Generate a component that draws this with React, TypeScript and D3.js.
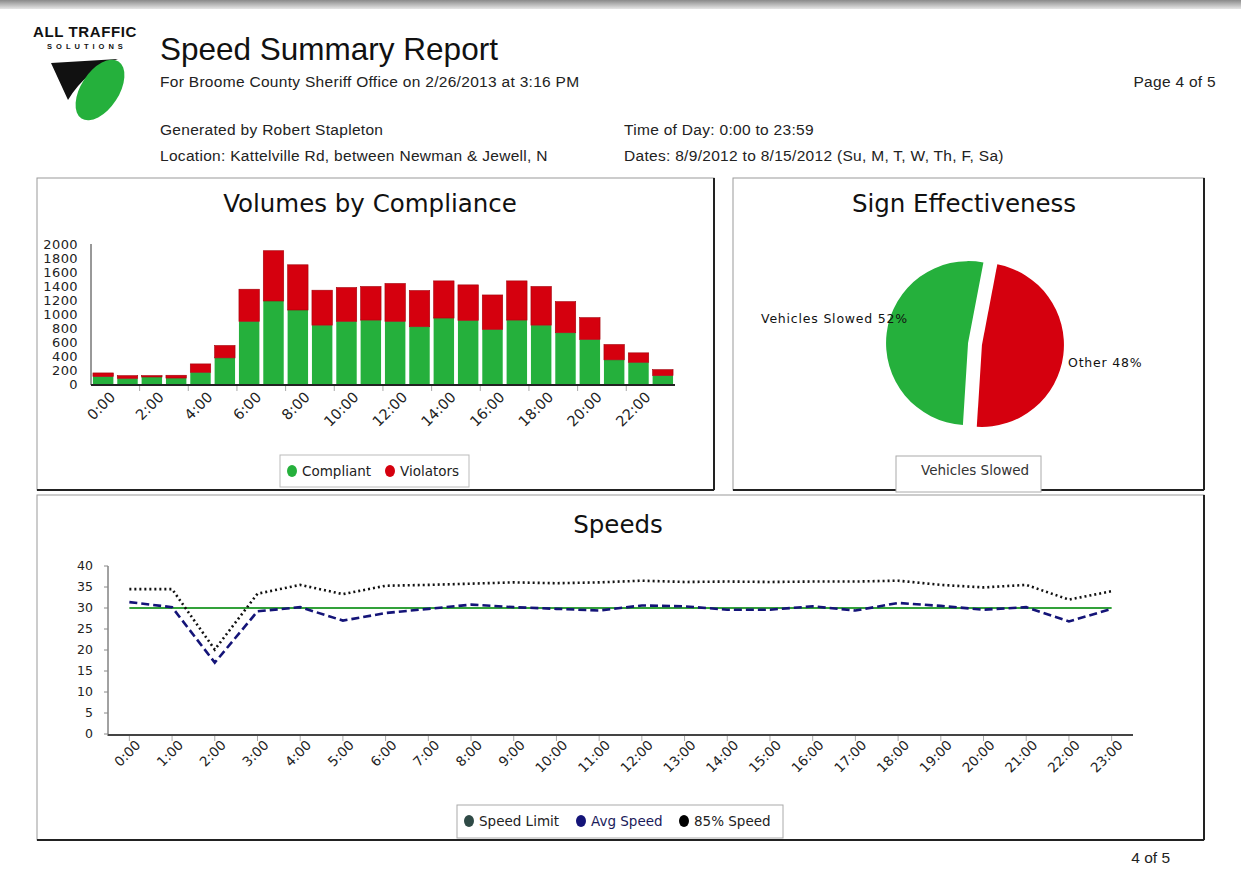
import * as d3 from 'd3';

const hourLabels = [
  '0:00', '1:00', '2:00', '3:00', '4:00', '5:00', '6:00', '7:00', '8:00', '9:00', '10:00', '11:00',
  '12:00', '13:00', '14:00', '15:00', '16:00', '17:00', '18:00', '19:00', '20:00', '21:00', '22:00', '23:00',
];

// Volumes by compliance (vehicles per hour)
const compliant = [105, 80, 100, 85, 167, 373, 895, 1186, 1057, 841, 895, 913, 895, 818, 942, 909, 780, 913, 841, 732, 636, 345, 310, 119];
const violators = [53, 39, 20, 40, 120, 177, 459, 718, 646, 499, 483, 480, 541, 517, 531, 507, 492, 560, 552, 445, 312, 219, 135, 86];
const volumeTicks = [0, 200, 400, 600, 800, 1000, 1200, 1400, 1600, 1800, 2000];

// Sign effectiveness
const pieLabels = ['Vehicles Slowed', 'Other'];
const pieValues = [52, 48];

// Speeds (mph)
const speedLimit = [30, 30, 30, 30, 30, 30, 30, 30, 30, 30, 30, 30, 30, 30, 30, 30, 30, 30, 30, 30, 30, 30, 30, 30];
const avgSpeed = [31.4, 30.2, 17.0, 29.2, 30.2, 27.0, 28.8, 29.8, 30.8, 30.2, 29.8, 29.4, 30.6, 30.4, 29.6, 29.6, 30.4, 29.4, 31.2, 30.5, 29.6, 30.2, 26.8, 29.8];
const p85Speed = [34.5, 34.5, 20.1, 33.4, 35.5, 33.3, 35.3, 35.5, 35.8, 36.1, 35.9, 36.1, 36.5, 36.2, 36.3, 36.2, 36.3, 36.3, 36.5, 35.5, 34.9, 35.5, 32.0, 34.0];
const speedTicks = [0, 5, 10, 15, 20, 25, 30, 35, 40];

const GREEN = '#25b03c';
const RED = '#d5000e';
const NAVY = '#141478';
const chartFont = '"DejaVu Sans", Verdana, sans-serif';
const headFont = '"Liberation Sans", Arial, sans-serif';

function Panel({ x, y, w, h }: { x: number; y: number; w: number; h: number }) {
  return (
    <g>
      <rect x={x} y={y} width={w} height={h} fill="#fff" stroke="#9a9a9a" strokeWidth={1} />
      <line x1={x + w} y1={y} x2={x + w} y2={y + h} stroke="#222" strokeWidth={2} />
      <line x1={x} y1={y + h} x2={x + w} y2={y + h} stroke="#222" strokeWidth={2} />
    </g>
  );
}

function VolumeChart() {
  const x = d3.scaleBand<string>().domain(hourLabels).range([91, 675]).paddingInner(0.16).paddingOuter(0.08);
  const y = d3.scaleLinear().domain([0, 2000]).range([384, 244]);
  return (
    <g fontFamily={chartFont}>
      <text x={370} y={212} textAnchor="middle" fontSize={24.5} fill="#111">Volumes by Compliance</text>
      <line x1={91} y1={244} x2={91} y2={385} stroke="#333" strokeWidth={1} />
      {volumeTicks.map((t) => (
        <text key={t} x={78} y={y(t)} dy="0.35em" textAnchor="end" fontSize={13} letterSpacing={0.4} fill="#222">{t}</text>
      ))}
      {hourLabels.map((h, i) => {
        const x0 = x(h)!;
        const c = compliant[i];
        const v = violators[i];
        return (
          <g key={h}>
            <rect x={x0} y={y(c)} width={x.bandwidth()} height={y(0) - y(c)} fill={GREEN} />
            <rect x={x0} y={y(c + v)} width={x.bandwidth()} height={y(c) - y(c + v)} fill={RED} stroke="#a3000a" strokeWidth={0.6} />
          </g>
        );
      })}
      <line x1={91} y1={385} x2={675} y2={385} stroke="#222" strokeWidth={2} />
      {hourLabels.map((h, i) =>
        i % 2 === 0 ? (
          <g key={h}>
            {i > 0 && <line x1={x(h)! - 2} y1={386} x2={x(h)! - 2} y2={391} stroke="#aaa" />}
            <text
              transform={`translate(${x(h)! + x.bandwidth() / 2 + 13},${398}) rotate(-45)`}
              textAnchor="end"
              fontSize={14.5}
              fill="#222"
            >
              {h}
            </text>
          </g>
        ) : null,
      )}
      <rect x={280} y={455} width={189} height={32} fill="#fff" stroke="#bbb" />
      <ellipse cx={292} cy={471} rx={5} ry={6} fill={GREEN} />
      <text x={302} y={471} dy="0.35em" fontSize={13.5} fill="#222">Compliant</text>
      <ellipse cx={390} cy={471} rx={5} ry={6} fill={RED} />
      <text x={400} y={471} dy="0.35em" fontSize={13.5} fill="#222">Violators</text>
    </g>
  );
}

function PieChart() {
  const pie = d3.pie<number>().sort(null).startAngle(Math.PI * 1.02).endAngle(Math.PI * 3.02);
  const arcs = pie(pieValues);
  const r = 82;
  const cx = 975;
  const cy = 344;
  const arc = d3.arc<d3.PieArcDatum<number>>().innerRadius(0).outerRadius(r);
  const colors = [GREEN, RED];
  return (
    <g fontFamily={chartFont}>
      <text x={964} y={212} textAnchor="middle" fontSize={24.5} fill="#111">Sign Effectiveness</text>
      {arcs.map((a, i) => {
        const mid = (a.startAngle + a.endAngle) / 2;
        const off = 7;
        const dx = Math.sin(mid) * off;
        const dy = -Math.cos(mid) * off;
        return <path key={i} d={arc(a)!} transform={`translate(${cx + dx},${cy + dy})`} fill={colors[i]} />;
      })}
      <text x={761} y={323} fontSize={12.5} letterSpacing={0.8} fill="#111">
        {`${pieLabels[0]} ${pieValues[0]}%`}
      </text>
      <text x={1068} y={367} fontSize={12.5} letterSpacing={0.8} fill="#111">
        {`${pieLabels[1]} ${pieValues[1]}%`}
      </text>
      <rect x={896} y={456} width={145} height={36} fill="#fff" stroke="#aaa" />
      <text x={921} y={470} dy="0.35em" fontSize={13.5} fill="#333">{pieLabels[0]}</text>
    </g>
  );
}

function SpeedChart() {
  const x = d3.scaleBand<string>().domain(hourLabels).range([108, 1133]);
  const px = (i: number) => x(hourLabels[i])! + x.bandwidth() / 2;
  const y = d3.scaleLinear().domain([0, 40]).range([734, 566]);
  const line = d3
    .line<number>()
    .x((_, i) => px(i))
    .y((d) => y(d));
  return (
    <g fontFamily={chartFont}>
      <text x={618} y={533} textAnchor="middle" fontSize={24.5} fill="#111">Speeds</text>
      <line x1={108} y1={566} x2={108} y2={736} stroke="#444" strokeWidth={1} />
      {speedTicks.map((t) => (
        <g key={t}>
          <line x1={104} y1={y(t)} x2={108} y2={y(t)} stroke="#888" />
          <text x={93} y={y(t)} dy="0.35em" textAnchor="end" fontSize={12.5} fill="#222">{t}</text>
        </g>
      ))}
      <line x1={108} y1={735} x2={1133} y2={735} stroke="#444" strokeWidth={2} />
      {hourLabels.map((h, i) => (
        <g key={h}>
          <line x1={px(i)} y1={736} x2={px(i)} y2={741} stroke="#aaa" />
          <text
            transform={`translate(${px(i) + 12},${746}) rotate(-45)`}
            textAnchor="end"
            fontSize={13.5}
            fill="#222"
          >
            {h}
          </text>
        </g>
      ))}
      <path d={line(speedLimit)!} fill="none" stroke="#33a13a" strokeWidth={2.2} />
      <path d={line(avgSpeed)!} fill="none" stroke={NAVY} strokeWidth={2.6} strokeDasharray="8,4" />
      <path d={line(p85Speed)!} fill="none" stroke="#111" strokeWidth={2.6} strokeDasharray="2,3" />
      <rect x={457} y={805} width={326} height={33} fill="#fff" stroke="#aaa" />
      <ellipse cx={469} cy={821} rx={5} ry={6} fill="#2f4a46" />
      <text x={479} y={821} dy="0.35em" fontSize={13.5} fill="#222">Speed Limit</text>
      <ellipse cx={581} cy={821} rx={5} ry={6} fill={NAVY} />
      <text x={591} y={821} dy="0.35em" fontSize={13.5} fill="#1a1a5a">Avg Speed</text>
      <ellipse cx={684} cy={821} rx={5} ry={6} fill="#000" />
      <text x={694} y={821} dy="0.35em" fontSize={13.5} fill="#222">85% Speed</text>
    </g>
  );
}

export default function App() {
  return (
    <svg
      width={1241}
      height={873}
      style={{ position: 'absolute', left: 0, top: 0, background: '#fff' }}
    >
      <defs>
        <linearGradient id="topbar" x1="0" y1="0" x2="0" y2="1">
          <stop offset="0" stopColor="#8a8a8a" />
          <stop offset="1" stopColor="#e6e6e6" />
        </linearGradient>
      </defs>
      <rect x={0} y={0} width={1241} height={873} fill="#fff" />
      <rect x={0} y={0} width={1241} height={9} fill="url(#topbar)" />

      {/* logo */}
      <text x={85} y={37} textAnchor="middle" fontFamily={headFont} fontWeight="900" fontSize={15} letterSpacing={0.6} fill="#111">ALL TRAFFIC</text>
      <text x={87} y={49} textAnchor="middle" fontFamily={headFont} fontWeight="bold" fontSize={7.5} letterSpacing={4} fill="#111">SOLUTIONS</text>
      <path d="M51,63 L118,59 Q86,70 68,100 Z" fill="#111" />
      <ellipse cx={100} cy={90} rx={19} ry={34} transform="rotate(33,100,90)" fill={GREEN} />

      {/* header */}
      <text x={160} y={60} fontFamily={headFont} fontSize={31.5} fill="#111">Speed Summary Report</text>
      <text x={160} y={87} fontFamily={headFont} fontSize={15.5} letterSpacing={0.3} fill="#222">For Broome County Sheriff Office on 2/26/2013 at 3:16 PM</text>
      <text x={1216} y={87} textAnchor="end" fontFamily={headFont} fontSize={15.5} letterSpacing={0.3} fill="#222">Page 4 of 5</text>
      <text x={160} y={135} fontFamily={headFont} fontSize={15.5} letterSpacing={0.3} fill="#222">Generated by Robert Stapleton</text>
      <text x={160} y={161} fontFamily={headFont} fontSize={15.5} letterSpacing={0.3} fill="#222">Location: Kattelville Rd, between Newman &amp; Jewell, N</text>
      <text x={624} y={135} fontFamily={headFont} fontSize={15.5} letterSpacing={0.3} fill="#222">Time of Day: 0:00 to 23:59</text>
      <text x={624} y={161} fontFamily={headFont} fontSize={15.5} letterSpacing={0.3} fill="#222">Dates: 8/9/2012 to 8/15/2012 (Su, M, T, W, Th, F, Sa)</text>

      <Panel x={37} y={178} w={677} h={312} />
      <Panel x={733} y={178} w={471} h={312} />
      <VolumeChart />
      <PieChart />
      <Panel x={37} y={495} w={1167} h={345} />
      <SpeedChart />

      <text x={1170} y={863} textAnchor="end" fontFamily={headFont} fontSize={15.5} fill="#222">4 of 5</text>
    </svg>
  );
}
